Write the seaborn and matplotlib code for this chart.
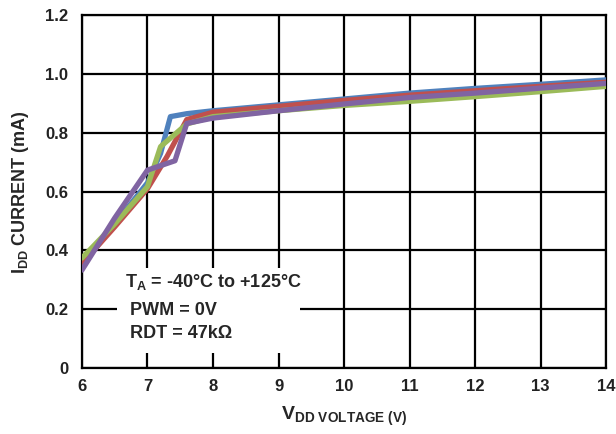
import pandas as pd
import numpy as np
import matplotlib
matplotlib.use("Agg")
import matplotlib.pyplot as plt
import seaborn as sns

# series (VDD in V, IDD in mA)
blue_v = [6, 6.5, 7, 7.2, 7.35, 7.6, 8, 9, 10, 11, 12, 13, 14]
blue_i = [0.35, 0.49, 0.63, 0.73, 0.855, 0.865, 0.875, 0.895, 0.915, 0.935, 0.951, 0.965, 0.98]
red_v = [6, 6.5, 7, 7.3, 7.6, 8, 9, 10, 11, 12, 13, 14]
red_i = [0.355, 0.48, 0.61, 0.72, 0.845, 0.87, 0.89, 0.91, 0.928, 0.943, 0.958, 0.972]
green_v = [6, 6.5, 7, 7.2, 7.6, 8, 9, 10, 11, 12, 13, 14]
green_i = [0.374, 0.49, 0.617, 0.753, 0.83, 0.855, 0.875, 0.893, 0.907, 0.923, 0.94, 0.958]
purple_v = [6, 6.5, 7, 7.42, 7.6, 8, 9, 10, 11, 12, 13, 14]
purple_i = [0.333, 0.51, 0.673, 0.705, 0.832, 0.85, 0.875, 0.898, 0.92, 0.935, 0.952, 0.968]

x_ticks = [6, 7, 8, 9, 10, 11, 12, 13, 14]
y_ticks = [0, 0.2, 0.4, 0.6, 0.8, 1.0, 1.2]
y_labels = ['0', '0.2', '0.4', '0.6', '0.8', '1.0', '1.2']
note_lines = [r'T$_\mathbf{A}$ = -40°C to +125°C', ' PWM = 0V', ' RDT = 47kΩ']

palette = {'blue': '#4F81BD', 'red': '#C0504D', 'green': '#9BBB59', 'purple': '#8064A2'}

frames = []
for name, v, i in [('blue', blue_v, blue_i), ('red', red_v, red_i),
                   ('green', green_v, green_i), ('purple', purple_v, purple_i)]:
    frames.append(pd.DataFrame({'V': v, 'I': i, 'curve': name}))
df = pd.concat(frames, ignore_index=True)

sns.set_style('white')
plt.rcParams['font.family'] = ['Liberation Sans', 'DejaVu Sans']
plt.rcParams['font.weight'] = 'bold'
plt.rcParams['mathtext.fontset'] = 'custom'
plt.rcParams['mathtext.rm'] = 'Liberation Sans:bold'
plt.rcParams['mathtext.bf'] = 'Liberation Sans:bold'
plt.rcParams['mathtext.it'] = 'Liberation Sans:bold'

fig = plt.figure(figsize=(6.16, 4.34), dpi=100)
ax = fig.add_axes([0.133, 0.152, 0.851, 0.813])

sns.lineplot(data=df, x='V', y='I', hue='curve', palette=palette, sort=False,
             estimator=None, linewidth=3.8, legend=False, ax=ax, zorder=3)

ax.set_xlim(6, 14)
ax.set_ylim(0, 1.2)
ax.set_xticks(x_ticks)
ax.set_yticks(y_ticks)
ax.set_yticklabels(y_labels)
ax.tick_params(length=0, labelsize=12, colors='#222222')
ax.tick_params(axis='x', pad=8)
ax.tick_params(axis='y', pad=10)
for lab in ax.get_xticklabels() + ax.get_yticklabels():
    lab.set_fontweight('bold')
ax.grid(True, color='black', linewidth=1.6)
for s in ax.spines.values():
    s.set_color('black')
    s.set_linewidth(1.6)

ax.set_xlabel(r'$\mathbf{V_{DD\ VOLTAGE\ (V)}}$', fontsize=14, labelpad=8)
ax.set_ylabel(r'I$_\mathbf{DD}$ CURRENT (mA)', fontsize=13, fontweight='bold', labelpad=10)

# white note box covering the grid
ax.add_patch(plt.Rectangle((6.53, 0.051), 2.8, 0.289, facecolor='white',
                           edgecolor='none', zorder=2.5))
ax.text(6.66, 0.293, note_lines[0], fontsize=13, fontweight='bold', va='center', zorder=4)
ax.text(6.66, 0.197, note_lines[1], fontsize=13, fontweight='bold', va='center', zorder=4)
ax.text(6.66, 0.118, note_lines[2], fontsize=13, fontweight='bold', va='center', zorder=4)

plt.savefig('out.png', dpi=100)
